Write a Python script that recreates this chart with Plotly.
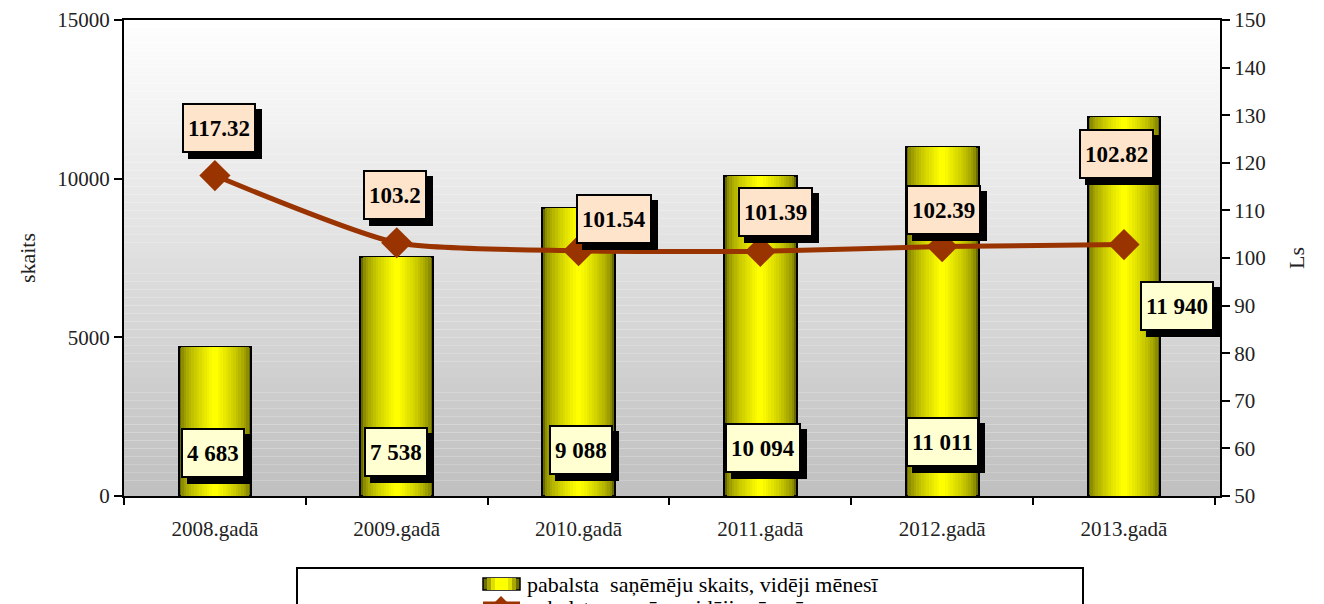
import plotly.graph_objects as go

# data
gadi = ["2008.gadā", "2009.gadā", "2010.gadā", "2011.gadā", "2012.gadā", "2013.gadā"]
sanemeju_skaits = [4683, 7538, 9088, 10094, 11011, 11940]
vid_pabalsts = [117.32, 103.2, 101.54, 101.39, 102.39, 102.82]
skaits_teksts = ["4 683", "7 538", "9 088", "10 094", "11 011", "11 940"]

SERIF = "Liberation Serif, Times New Roman, serif"
LINE_COLOR = "#993300"

# label placement (pixel shifts)
bar_lbl_shift = [(-2, 43), (-1, 44), (2, 46), (3, 48), (0, 54), (53, 190)]
line_lbl_shift = [(4, 48), (-2, 48), (35, 32), (15, 39), (1, 37), (-8, 91)]

# page body has an 8px margin; shift everything back by that much
OFF = 8

fig = go.Figure()

# cylinder-like bars: overlaid bars of narrowing width, olive -> yellow
n_steps = 14
for k in range(n_steps):
    t = (k / (n_steps - 1)) ** 0.55
    r = int(105 + (255 - 105) * t)
    fig.add_trace(go.Bar(
        x=gadi, y=sanemeju_skaits,
        width=0.40 * (1 - 0.92 * k / (n_steps - 1)),
        marker=dict(color=f"rgb({r},{r},0)",
                    line=dict(color="black", width=2 if k == 0 else 0)),
        showlegend=False, hoverinfo="skip" if k else None,
    ))

fig.add_trace(go.Scatter(
    x=gadi, y=vid_pabalsts, yaxis="y2", mode="lines+markers",
    line=dict(color=LINE_COLOR, width=5, shape="spline", smoothing=0.6),
    marker=dict(symbol="diamond", size=24, color=LINE_COLOR),
    showlegend=False,
))

annotations = []
for xg, txt, (dx, dy) in zip(gadi, skaits_teksts, bar_lbl_shift):
    common = dict(x=xg, y=0, xref="x", yref="y", text=f"<b>{txt}</b>",
                  showarrow=False, height=38, borderwidth=2, borderpad=4,
                  font=dict(family=SERIF, size=23, color="black"))
    annotations.append(dict(common, xshift=dx + 6, yshift=dy - 6,
                            bgcolor="black", bordercolor="black"))
    annotations.append(dict(common, xshift=dx, yshift=dy,
                            bgcolor="#FFFFD2", bordercolor="black"))

for xg, val, (dx, dy) in zip(gadi, vid_pabalsts, line_lbl_shift):
    common = dict(x=xg, y=val, xref="x", yref="y2", text=f"<b>{val:g}</b>",
                  showarrow=False, height=38, borderwidth=2, borderpad=4,
                  font=dict(family=SERIF, size=23, color="black"))
    annotations.append(dict(common, xshift=dx + 6, yshift=dy - 6,
                            bgcolor="black", bordercolor="black"))
    annotations.append(dict(common, xshift=dx, yshift=dy,
                            bgcolor="#FFE4CC", bordercolor="black"))


# helpers: screen pixel -> paper coords (plot area 124..1220 x 20..496)
def px_x(x):
    return (x - 124) / 1096


def px_y(y):
    return (496 - y) / 476


shapes = []
# plot-area vertical gradient
n_bg = 60
for i in range(n_bg):
    t = i / (n_bg - 1)
    c = int(192 + (255 - 192) * t)
    shapes.append(dict(type="rect", xref="paper", yref="paper",
                       x0=0, x1=1, y0=i / n_bg, y1=(i + 1) / n_bg,
                       fillcolor=f"rgb({c},{c},{c})", line=dict(width=0),
                       layer="below"))

# legend box (cut off at the bottom edge like the original)
shapes.append(dict(type="rect", xref="paper", yref="paper",
                   x0=px_x(297), x1=px_x(1083), y0=px_y(568), y1=px_y(640),
                   fillcolor="white", line=dict(color="black", width=2)))
for k, col in enumerate(["#6e6e00", "#a8a800", "#e0e000", "#ffff00"]):
    shapes.append(dict(type="rect", xref="paper", yref="paper",
                       x0=px_x(483 + 4 * k), x1=px_x(520 - 4 * k),
                       y0=px_y(578), y1=px_y(590), fillcolor=col,
                       line=dict(color="black", width=1.5 if k == 0 else 0)))
shapes.append(dict(type="line", xref="paper", yref="paper",
                   x0=px_x(483), x1=px_x(520), y0=px_y(604), y1=px_y(604),
                   line=dict(color=LINE_COLOR, width=5)))
cx, cy, hs = 501, 605, 9
shapes.append(dict(type="path", xref="paper", yref="paper",
                   path=f"M {px_x(cx)},{px_y(cy - hs)} L {px_x(cx + hs)},{px_y(cy)} "
                        f"L {px_x(cx)},{px_y(cy + hs)} L {px_x(cx - hs)},{px_y(cy)} Z",
                   fillcolor=LINE_COLOR, line=dict(width=0)))

annotations.append(dict(xref="paper", yref="paper", x=px_x(525), y=px_y(584),
                        xanchor="left", yanchor="middle", showarrow=False,
                        text="pabalsta  saņēmēju skaits, vidēji mēnesī",
                        font=dict(family=SERIF, size=22, color="black")))
annotations.append(dict(xref="paper", yref="paper", x=px_x(525), y=px_y(607),
                        xanchor="left", yanchor="middle", showarrow=False,
                        text="pabalsta  apmērs, vidēji mēnesī",
                        font=dict(family=SERIF, size=22, color="black")))

TICKFONT = dict(family=SERIF, size=21, color="#222")

fig.update_layout(
    width=1324, height=604,
    margin=dict(l=124 - OFF, r=104 + OFF, t=20 - OFF, b=108 + OFF),
    paper_bgcolor="white", plot_bgcolor="white",
    barmode="overlay", bargap=0,
    font=dict(family=SERIF, size=21, color="#222"),
    annotations=annotations, shapes=shapes,
    xaxis=dict(showline=True, linecolor="black", linewidth=2, mirror=True,
               automargin=False,
               ticks="outside", tickson="boundaries", ticklen=7,
               tickcolor="black", tickwidth=2, ticklabelstandoff=13,
               tickfont=TICKFONT, showgrid=False, zeroline=False),
    yaxis=dict(range=[0, 15000], dtick=5000, tickformat="d", showline=True,
               automargin=False,
               linecolor="black", linewidth=2, ticks="outside", ticklen=8,
               tickcolor="black", tickwidth=2, showgrid=False, zeroline=False,
               tickfont=TICKFONT,
               title=dict(text="skaits", standoff=16,
                          font=dict(family=SERIF, size=22, color="#222"))),
    yaxis2=dict(range=[50, 150], dtick=10, overlaying="y", side="right",
                automargin=False,
                showline=True, linecolor="black", linewidth=2, ticks="outside",
                ticklen=8, tickcolor="black", tickwidth=2, showgrid=False,
                zeroline=False, tickfont=TICKFONT,
                title=dict(text="Ls", standoff=24,
                           font=dict(family=SERIF, size=22, color="#222"))),
)

fig.write_html("out.html")
